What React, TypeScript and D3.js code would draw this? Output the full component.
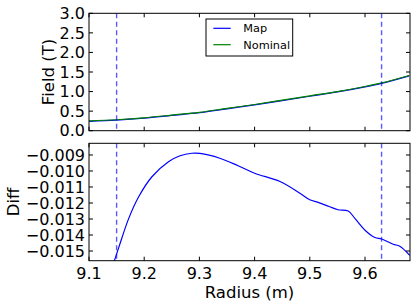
import React from 'react';
import * as d3 from 'd3';

// Field vs radius (top panel)
const radiusField = [9.10, 9.15, 9.20, 9.25, 9.30, 9.35, 9.40, 9.45, 9.50, 9.55, 9.60, 9.63, 9.68];
const nominalField = [0.25, 0.28, 0.33, 0.40, 0.47, 0.57, 0.67, 0.78, 0.89, 1.00, 1.13, 1.22, 1.41];
const mapField = [0.24, 0.27, 0.32, 0.39, 0.46, 0.56, 0.66, 0.77, 0.88, 0.99, 1.12, 1.21, 1.40];

// Map - Nominal difference (bottom panel)
const radiusDiff = [9.140, 9.146, 9.154, 9.172, 9.190, 9.214, 9.244, 9.265, 9.286, 9.301, 9.337, 9.370, 9.400,
  9.446, 9.482, 9.500, 9.515, 9.535, 9.551, 9.5695, 9.582, 9.600, 9.618, 9.630, 9.651, 9.663, 9.681];
const diffValues = [-0.0161, -0.0156, -0.01477, -0.01296, -0.01161, -0.01036, -0.00942, -0.00905, -0.00889,
  -0.00890, -0.00920, -0.00967, -0.01014, -0.01066, -0.01139, -0.01180, -0.01196, -0.01222, -0.01242,
  -0.0125, -0.01298, -0.0137, -0.01416, -0.01425, -0.01458, -0.0147, -0.01527];

// vertical markers
const markerRadii = [9.15, 9.63];

const xTicks = [9.1, 9.2, 9.3, 9.4, 9.5, 9.6];
const fieldTicks = [0, 0.5, 1.0, 1.5, 2.0, 2.5, 3.0];
const diffTicks = [-0.015, -0.014, -0.013, -0.012, -0.011, -0.010, -0.009];

const legendItems = [
  { label: 'Map', color: '#0000ff' },
  { label: 'Nominal', color: '#008000' },
];

const FONT = '"DejaVu Sans", sans-serif';

export default function App() {
  const W = 415, H = 307;
  const left = 89, right = 410;
  const top1 = 13.3, bot1 = 130.7;
  const top2 = 143.3, bot2 = 260.7;
  const tickLen = 4;

  const x = d3.scaleLinear().domain([9.1, 9.6815]).range([left, right]);
  const yField = d3.scaleLinear().domain([0, 3]).range([bot1, top1]);
  const yDiff = d3.scaleLinear().domain([-0.015606, -0.008269]).range([bot2, top2]);

  const fieldLine = (vals: number[]) =>
    d3.line<number>()
      .x((_, i) => x(radiusField[i]))
      .y(d => yField(d))
      .curve(d3.curveMonotoneX)(vals) || '';

  const diffPath = d3.line<number>()
    .x((_, i) => x(radiusDiff[i]))
    .y(d => yDiff(d))
    .curve(d3.curveCatmullRom.alpha(0.5))(diffValues) || '';

  const fmtField = d3.format('.1f');
  const fmtDiff = d3.format('.3f');

  const frame = (t: number, b: number, yTicks: number[], yScale: d3.ScaleLinear<number, number>,
    fmt: (n: number) => string, showX: boolean) => (
    <g>
      <rect x={left} y={t} width={right - left} height={b - t} fill="none" stroke="#000" strokeWidth={1} />
      {xTicks.map(v => (
        <g key={'x' + v}>
          <line x1={x(v)} x2={x(v)} y1={b} y2={b - tickLen} stroke="#000" />
          <line x1={x(v)} x2={x(v)} y1={t} y2={t + tickLen} stroke="#000" />
          {showX && (
            <text x={x(v)} y={278.7} textAnchor="middle" fontSize={16} fontFamily={FONT}>{v.toFixed(1)}</text>
          )}
        </g>
      ))}
      {yTicks.map(v => (
        <g key={'y' + v}>
          <line x1={left} x2={left + tickLen} y1={yScale(v)} y2={yScale(v)} stroke="#000" />
          <line x1={right} x2={right - tickLen} y1={yScale(v)} y2={yScale(v)} stroke="#000" />
          <text x={85} y={yScale(v)} dy="0.36em" textAnchor="end" fontSize={16} fontFamily={FONT}>{fmt(v)}</text>
        </g>
      ))}
    </g>
  );

  return (
    <svg width={W} height={H} style={{ position: 'absolute', left: 0, top: 0, background: '#fff' }}>
      <defs>
        <clipPath id="clip-top"><rect x={left} y={top1} width={right - left} height={bot1 - top1} /></clipPath>
        <clipPath id="clip-bot"><rect x={left} y={top2} width={right - left} height={bot2 - top2} /></clipPath>
      </defs>

      {/* top panel */}
      <g clipPath="url(#clip-top)">
        <path d={fieldLine(mapField)} fill="none" stroke="#0000ff" strokeWidth={1.2} />
        <path d={fieldLine(nominalField)} fill="none" stroke="#008000" strokeWidth={1.2} />
        {markerRadii.map(r => (
          <line key={r} x1={x(r)} x2={x(r)} y1={top1} y2={bot1} stroke="#0000ff" strokeOpacity={0.65}
            strokeWidth={1.4} strokeDasharray="5,3.5" />
        ))}
      </g>
      {frame(top1, bot1, fieldTicks, yField, fmtField, false)}

      {/* legend */}
      <g>
        <rect x={206} y={19} width={86.7} height={37} fill="#fff" stroke="#000" strokeWidth={1} />
        {legendItems.map((it, i) => (
          <g key={it.label}>
            <line x1={213.3} x2={230.7} y1={28.3 + i * 16.4} y2={28.3 + i * 16.4} stroke={it.color} strokeWidth={1.2} />
            <text x={243.3} y={28.3 + i * 16.4} dy="0.36em" fontSize={11.3} fontFamily={FONT}>{it.label}</text>
          </g>
        ))}
      </g>

      {/* bottom panel */}
      <g clipPath="url(#clip-bot)">
        <path d={diffPath} fill="none" stroke="#0000ff" strokeWidth={1.2} />
        {markerRadii.map(r => (
          <line key={r} x1={x(r)} x2={x(r)} y1={top2} y2={bot2} stroke="#0000ff" strokeOpacity={0.65}
            strokeWidth={1.4} strokeDasharray="5,3.5" />
        ))}
      </g>
      {frame(top2, bot2, diffTicks, yDiff, fmtDiff, true)}

      {/* axis labels */}
      <text transform={`translate(53.5,${(top1 + bot1) / 2}) rotate(-90)`} textAnchor="middle" fontSize={16.5}
        fontFamily={FONT}>Field (T)</text>
      <text transform={`translate(18.5,${(top2 + bot2) / 2}) rotate(-90)`} textAnchor="middle" fontSize={16.5}
        fontFamily={FONT}>Diff</text>
      <text x={(left + right) / 2} y={298} textAnchor="middle" fontSize={16.5} fontFamily={FONT}>Radius (m)</text>
    </svg>
  );
}
